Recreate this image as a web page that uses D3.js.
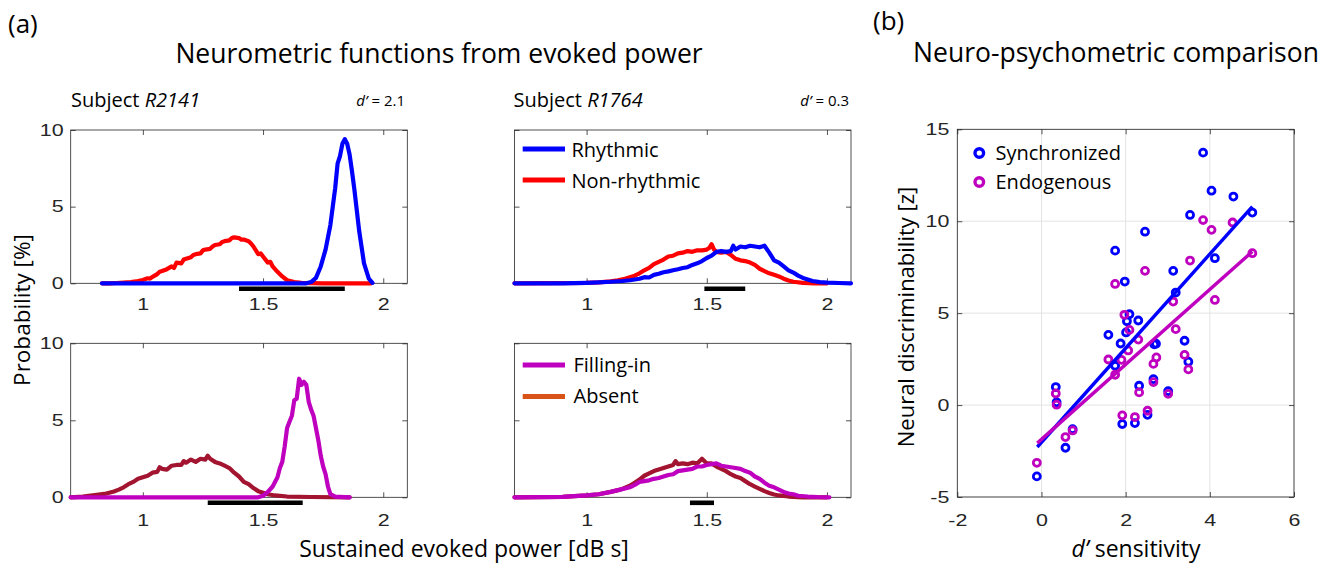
<!DOCTYPE html>
<html><head><meta charset="utf-8">
<script src="https://cdn.jsdelivr.net/npm/d3@7"></script>
<style>body{margin:0;background:#fff}svg{display:block}</style>
</head><body>
<svg id="c" width="1337" height="565"></svg>
<script>
// ---------------- DATA ----------------
const histXTicks = [1, 1.5, 2];
const histYTicks = [0, 5, 10];
const scatXTicks = [-2, 0, 2, 4, 6];
const scatYTicks = [-5, 0, 5, 10, 15];

// Subject R2141 (top-left)
const rhythA_x = [0.83,1.68,1.70,1.72,1.74,1.76,1.78,1.80,1.81,1.82,1.83,1.84,1.85,1.86,1.87,1.88,1.90,1.92,1.94,1.955];
const rhythA_y = [0,0,0.08,0.35,1.1,2.2,3.8,6.2,7.8,8.3,9.1,9.4,9.1,8.4,7.3,6.1,3.4,1.3,0.3,0.03];
const nonRhythA_x = [0.83,0.86,0.89,0.92,0.95,0.98,1.00,1.02,1.03,1.04,1.06,1.07,1.08,1.10,1.12,1.13,1.14,1.16,1.17,1.18,1.20,1.21,1.22,1.24,1.25,1.26,1.28,1.29,1.30,1.32,1.33,1.34,1.36,1.37,1.38,1.40,1.41,1.42,1.44,1.45,1.46,1.48,1.49,1.50,1.52,1.53,1.54,1.56,1.58,1.60,1.63,1.66,1.70,1.75,1.80,1.85,1.90,1.95];
const nonRhythA_y = [0,0,0.02,0.05,0.08,0.15,0.22,0.33,0.3,0.42,0.6,0.75,0.8,0.92,1.1,1.0,1.35,1.3,1.55,1.6,1.7,1.85,1.9,1.95,2.15,2.2,2.25,2.4,2.5,2.55,2.7,2.75,2.8,2.95,3.0,2.95,2.85,2.85,2.75,2.6,2.4,1.9,1.95,1.75,1.35,1.4,1.1,0.75,0.45,0.2,0.08,0.03,0.01,0,0,0,0,0];
// Subject R1764 (top-right)
const rhythB_x = [0.70,0.90,1.00,1.05,1.10,1.15,1.18,1.20,1.22,1.24,1.26,1.28,1.30,1.32,1.34,1.36,1.38,1.40,1.42,1.44,1.46,1.48,1.50,1.52,1.54,1.56,1.58,1.60,1.61,1.62,1.64,1.66,1.68,1.70,1.72,1.74,1.76,1.78,1.80,1.82,1.84,1.86,1.88,1.90,1.92,1.94,1.97,2.00,2.05,2.10];
const rhythB_y = [0,0,0.03,0.06,0.1,0.15,0.2,0.25,0.3,0.4,0.38,0.55,0.62,0.72,0.78,0.85,0.92,1.0,1.05,1.2,1.3,1.45,1.65,1.8,2.05,2.1,2.05,2.1,2.45,2.2,2.4,2.35,2.45,2.4,2.35,2.45,2.0,1.5,1.35,1.1,0.85,0.7,0.5,0.35,0.25,0.15,0.08,0.05,0.02,0];
const nonRhythB_x = [0.70,1.00,1.05,1.10,1.13,1.16,1.18,1.20,1.22,1.24,1.26,1.28,1.30,1.32,1.34,1.36,1.38,1.40,1.42,1.44,1.46,1.48,1.50,1.51,1.52,1.53,1.54,1.56,1.58,1.60,1.62,1.64,1.66,1.68,1.70,1.72,1.74,1.76,1.78,1.80,1.82,1.84,1.86,1.90,1.95,2.00];
const nonRhythB_y = [0,0.03,0.06,0.13,0.2,0.3,0.4,0.5,0.65,0.85,1.0,1.25,1.4,1.55,1.75,1.8,1.95,2.0,2.1,2.05,2.15,2.15,2.2,2.3,2.55,2.2,2.05,2.0,2.05,1.85,1.6,1.5,1.45,1.35,1.2,0.95,0.8,0.65,0.55,0.45,0.3,0.18,0.1,0.03,0,0];
// Subject R2141 (bottom-left)
const fillA_x = [0.70,1.48,1.50,1.52,1.54,1.56,1.57,1.58,1.59,1.60,1.61,1.62,1.63,1.64,1.65,1.66,1.67,1.68,1.69,1.70,1.71,1.72,1.73,1.74,1.75,1.76,1.77,1.78,1.80,1.86];
const fillA_y = [0,0,0.1,0.35,0.7,1.3,1.9,2.3,3.3,4.5,4.9,5.3,6.3,6.4,7.7,7.3,7.5,7.3,6.2,5.7,5.3,4.5,3.7,2.7,2.0,1.5,0.7,0.2,0.05,0];
const absentA_x = [0.70,0.75,0.80,0.84,0.86,0.88,0.90,0.92,0.94,0.96,0.98,1.00,1.02,1.04,1.06,1.07,1.08,1.10,1.12,1.14,1.16,1.17,1.18,1.20,1.22,1.24,1.26,1.27,1.28,1.30,1.32,1.34,1.36,1.38,1.40,1.42,1.44,1.46,1.48,1.50,1.52,1.55,1.60,1.70,1.86];
const absentA_y = [0,0.05,0.15,0.22,0.3,0.38,0.5,0.65,0.85,1.0,1.2,1.3,1.4,1.6,1.65,1.95,1.85,1.8,2.05,2.1,2.1,2.35,2.25,2.45,2.3,2.5,2.45,2.7,2.5,2.3,2.2,2.05,1.9,1.6,1.35,1.0,0.85,0.6,0.4,0.3,0.2,0.12,0.05,0.02,0];
// Subject R1764 (bottom-right)
const fillB_x = [0.70,0.90,1.00,1.05,1.10,1.14,1.18,1.20,1.22,1.24,1.26,1.28,1.30,1.32,1.34,1.36,1.38,1.40,1.42,1.44,1.46,1.48,1.50,1.52,1.54,1.56,1.58,1.60,1.62,1.64,1.66,1.68,1.70,1.72,1.74,1.76,1.78,1.80,1.82,1.84,1.86,1.88,1.92,1.96,2.01];
const fillB_y = [0,0.03,0.12,0.2,0.35,0.5,0.65,0.8,1.0,1.05,1.1,1.2,1.25,1.35,1.45,1.5,1.7,1.75,1.8,1.85,2.0,2.0,2.1,2.15,2.2,2.05,2.0,1.95,1.9,1.85,1.7,1.6,1.35,1.2,0.95,0.75,0.65,0.5,0.35,0.25,0.2,0.1,0.05,0.02,0];
const absentB_x = [0.70,0.90,1.00,1.05,1.10,1.14,1.18,1.20,1.22,1.24,1.26,1.28,1.30,1.32,1.34,1.36,1.37,1.38,1.40,1.42,1.44,1.46,1.48,1.50,1.52,1.54,1.56,1.58,1.60,1.62,1.64,1.66,1.68,1.70,1.72,1.74,1.76,1.78,1.80,1.84,1.90,2.00];
const absentB_y = [0,0.03,0.12,0.2,0.35,0.5,0.75,0.95,1.15,1.4,1.55,1.7,1.8,1.9,2.0,2.1,2.35,2.15,2.2,2.15,2.25,2.2,2.5,2.2,2.2,2.0,1.85,1.7,1.5,1.35,1.25,1.05,0.85,0.7,0.55,0.4,0.28,0.18,0.12,0.05,0,0];

// threshold bars [start, end]
const barTL = [1.40, 1.84];
const barTR = [1.49, 1.66];
const barBL = [1.27, 1.665];
const barBR = [1.43, 1.53];

// scatter (b)
const syncX = [-0.11,0.34,0.36,0.57,0.74,1.59,1.75,1.75,1.88,1.92,1.98,2.01,2.03,2.09,2.22,2.30,2.32,2.46,2.52,2.66,2.68,2.72,3.01,3.13,3.19,3.40,3.49,3.53,3.84,4.04,4.12,4.56,5.01];
const syncY = [-3.88,0.98,0.15,-2.32,-1.31,3.82,2.14,8.40,3.35,-1.03,6.72,3.95,4.56,4.94,-0.98,4.60,1.05,9.43,-0.53,1.41,3.30,3.34,0.76,7.30,6.12,3.50,2.36,10.34,13.73,11.66,7.99,11.34,10.47];
const endoX = [-0.11,0.34,0.36,0.57,0.74,1.59,1.75,1.75,1.90,1.92,1.97,2.06,2.09,2.22,2.30,2.32,2.46,2.52,2.66,2.66,2.73,3.01,3.13,3.19,3.40,3.49,3.53,3.84,4.04,4.12,4.54,5.01];
const endoY = [-3.14,0.63,0.02,-1.74,-1.38,2.48,1.65,6.59,2.46,-0.56,4.91,2.97,4.09,-0.65,3.56,0.69,7.30,-0.31,1.25,2.24,2.59,0.61,5.63,4.13,2.73,1.94,7.86,10.06,9.53,5.72,9.93,8.26];
const syncFitX = [-0.10, 5.01], syncFitY = [-2.28, 10.80];
const endoFitX = [-0.10, 5.01], endoFitY = [-2.07, 8.35];

// ---------------- DRAWING ----------------
const svg = d3.select('#c');
const SX = 1.3;
const TICKFONT = '"Liberation Sans", Arial, sans-serif';
const LF = '"Open Sans", sans-serif';
const AX = '#262626';
const BLUE = '#0000ff', RED = '#ff0000', MAG = '#bf00bf', DRED = '#a2142f', ORANGE = '#d95319';
const fmt = d => String(d);

function makeAxes(box, xd, yd, xt, yt, showY, grid) {
  const x = d3.scaleLinear().domain(xd).range([box.x0, box.x1]);
  const y = d3.scaleLinear().domain(yd).range([box.y1, box.y0]);
  const g = svg.append('g');
  if (grid) {
    g.selectAll('.gx').data(xt).join('line').attr('x1', d => x(d)).attr('x2', d => x(d))
      .attr('y1', box.y0).attr('y2', box.y1).attr('stroke', '#e3e3e3').attr('stroke-width', 1);
    g.selectAll('.gy').data(yt).join('line').attr('y1', d => y(d)).attr('y2', d => y(d))
      .attr('x1', box.x0).attr('x2', box.x1).attr('stroke', '#e3e3e3').attr('stroke-width', 1);
  }
  const tl = 5;
  g.append('g').attr('transform', `translate(0,${box.y1})`)
    .call(d3.axisBottom(x).tickValues(xt).tickSizeInner(-tl).tickSizeOuter(0).tickPadding(box.xpad).tickFormat(fmt));
  g.append('g').attr('transform', `translate(0,${box.y0})`)
    .call(d3.axisTop(x).tickValues(xt).tickSizeInner(-tl).tickSizeOuter(0).tickFormat(''));
  g.append('g').attr('transform', `translate(${box.x0},0)`)
    .call(d3.axisLeft(y).tickValues(yt).tickSizeInner(-tl).tickSizeOuter(0).tickPadding(box.ypad).tickFormat(showY ? fmt : ''));
  g.append('g').attr('transform', `translate(${box.x1},0)`)
    .call(d3.axisRight(y).tickValues(yt).tickSizeInner(-tl).tickSizeOuter(0).tickFormat(''));
  g.selectAll('.domain').remove();
  g.selectAll('.tick line').attr('stroke', AX).attr('stroke-width', 0.8);
  g.selectAll('.tick text').filter(function () { return this.textContent === ''; }).remove();
  g.selectAll('.tick text').attr('fill', AX).attr('font-family', TICKFONT).attr('font-size', 16.5)
    .each(function () {
      const t = d3.select(this);
      const xx = +t.attr('x') || 0;
      t.attr('x', xx / SX).attr('transform', `scale(${SX},1)`);
    });
  g.append('rect').attr('x', box.x0).attr('y', box.y0).attr('width', box.x1 - box.x0).attr('height', box.y1 - box.y0)
    .attr('fill', 'none').attr('stroke', AX).attr('stroke-width', 0.8);
  return { x, y, g, box };
}

function curve(ax, xs, ys, color, w) {
  const pts = xs.map((d, i) => [d, ys[i]]);
  ax.g.append('path').datum(pts)
    .attr('d', d3.line().x(d => ax.x(d[0])).y(d => ax.y(d[1])))
    .attr('fill', 'none').attr('stroke', color).attr('stroke-width', w || 4.2)
    .attr('stroke-linejoin', 'round').attr('stroke-linecap', 'round');
}
function bar(ax, b) {
  ax.g.append('line').attr('x1', ax.x(b[0])).attr('x2', ax.x(b[1]))
    .attr('y1', ax.box.y1 + 5.5).attr('y2', ax.box.y1 + 5.5)
    .attr('stroke', '#000').attr('stroke-width', 4.6);
}
function text(x, y, str, size, anchor, extra) {
  const t = svg.append('text').attr('x', x).attr('y', y).attr('font-family', LF)
    .attr('font-size', size).attr('text-anchor', anchor || 'start').attr('fill', '#000');
  if (str !== null) t.text(str);
  if (extra) extra(t);
  return t;
}
function legendLine(x0, x1, y, color, label, tx, ty) {
  svg.append('line').attr('x1', x0).attr('x2', x1).attr('y1', y).attr('y2', y)
    .attr('stroke', color).attr('stroke-width', 4.8);
  text(tx, ty, label, 20);
}

const hx = [0.7, 2.1], hy = [0, 10];
const TL = makeAxes({ x0: 70.7, x1: 407.3, y0: 130, y1: 283.3, xpad: 15, ypad: 7 }, hx, hy, histXTicks, histYTicks, true);
const TR = makeAxes({ x0: 514.5, x1: 851, y0: 130, y1: 283.3, xpad: 15, ypad: 7 }, hx, hy, histXTicks, histYTicks, false);
const BL = makeAxes({ x0: 70.7, x1: 407.3, y0: 343.3, y1: 497.3, xpad: 17, ypad: 7 }, hx, hy, histXTicks, histYTicks, true);
const BR = makeAxes({ x0: 514.5, x1: 851, y0: 343.3, y1: 497.3, xpad: 17, ypad: 7 }, hx, hy, histXTicks, histYTicks, false);
const SC = makeAxes({ x0: 957.3, x1: 1294, y0: 129.3, y1: 497, xpad: 17, ypad: 8 }, [-2, 6], [-5, 15], scatXTicks, scatYTicks, true, true);

curve(TL, nonRhythA_x, nonRhythA_y, RED);
curve(TL, rhythA_x, rhythA_y, BLUE);
bar(TL, barTL);
curve(TR, nonRhythB_x, nonRhythB_y, RED);
curve(TR, rhythB_x, rhythB_y, BLUE);
bar(TR, barTR);
curve(BL, absentA_x, absentA_y, DRED);
curve(BL, fillA_x, fillA_y, MAG);
bar(BL, barBL);
curve(BR, absentB_x, absentB_y, DRED);
curve(BR, fillB_x, fillB_y, MAG);
bar(BR, barBR);

// scatter
SC.g.selectAll('.sync').data(syncX).join('circle')
  .attr('cx', d => SC.x(d)).attr('cy', (d, i) => SC.y(syncY[i])).attr('r', 3.5)
  .attr('fill', 'none').attr('stroke', BLUE).attr('stroke-width', 2.8);
SC.g.selectAll('.endo').data(endoX).join('circle')
  .attr('cx', d => SC.x(d)).attr('cy', (d, i) => SC.y(endoY[i])).attr('r', 3.5)
  .attr('fill', 'none').attr('stroke', MAG).attr('stroke-width', 2.8);
SC.g.append('line').attr('x1', SC.x(syncFitX[0])).attr('x2', SC.x(syncFitX[1]))
  .attr('y1', SC.y(syncFitY[0])).attr('y2', SC.y(syncFitY[1])).attr('stroke', BLUE).attr('stroke-width', 3.4);
SC.g.append('line').attr('x1', SC.x(endoFitX[0])).attr('x2', SC.x(endoFitX[1]))
  .attr('y1', SC.y(endoFitY[0])).attr('y2', SC.y(endoFitY[1])).attr('stroke', MAG).attr('stroke-width', 3.4);

// scatter legend
svg.append('circle').attr('cx', 979.3).attr('cy', 153).attr('r', 4.3).attr('fill', 'none').attr('stroke', BLUE).attr('stroke-width', 3.4);
svg.append('circle').attr('cx', 979.3).attr('cy', 182).attr('r', 4.3).attr('fill', 'none').attr('stroke', MAG).attr('stroke-width', 3.4);
text(995.5, 160, 'Synchronized', 20);
text(995.5, 189, 'Endogenous', 20);

// histogram legends
legendLine(522.7, 565, 149, BLUE, 'Rhythmic', 571.5, 156.5);
legendLine(522.7, 565, 180, RED, 'Non-rhythmic', 571.5, 187.5);
legendLine(522.7, 565, 365, MAG, 'Filling-in', 573.5, 372);
legendLine(522.7, 565, 396.5, ORANGE, 'Absent', 573.5, 403);

// titles and labels
text(8, 33, '(a)', 26);
text(873, 30, '(b)', 26);
text(439, 63, 'Neurometric functions from evoked power', 26.5, 'middle');
text(1116, 62, 'Neuro-psychometric comparison', 26.5, 'middle');

function subject(x, y, id) {
  text(x, y, null, 20, 'start', t => {
    t.append('tspan').text('Subject ');
    t.append('tspan').attr('font-style', 'italic').text(id);
  });
}
subject(71, 107, 'R2141');
subject(513.5, 107, 'R1764');
function dprime(x, y, v) {
  text(x, y, null, 15, 'end', t => {
    t.append('tspan').attr('font-style', 'italic').text('d’');
    t.append('tspan').text(' = ' + v);
  });
}
dprime(405, 106, '2.1');
dprime(849, 106, '0.3');

text(464, 557, 'Sustained evoked power [dB s]', 23, 'middle');
text(0, 0, 'Probability [%]', 22.5, 'middle', t => t.attr('transform', 'translate(30,310) rotate(-90)'));
text(0, 0, 'Neural discriminability [z]', 22, 'middle', t => t.attr('transform', 'translate(914,317) rotate(-90)'));
text(1136, 557, null, 23, 'middle', t => {
  t.append('tspan').attr('font-style', 'italic').text('d’');
  t.append('tspan').text(' sensitivity');
});
</script>
</body></html>
